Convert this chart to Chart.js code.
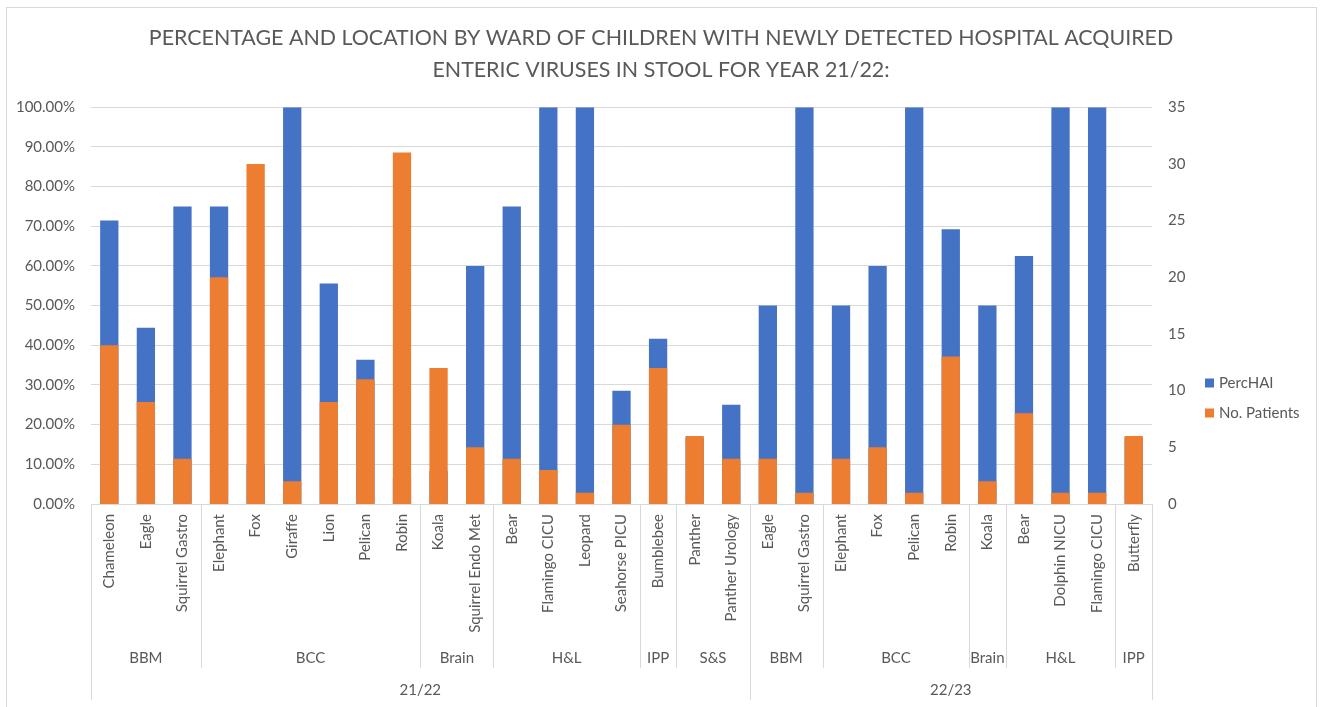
<!DOCTYPE html>
<html>
<head>
<meta charset="utf-8">
<script src="https://cdn.jsdelivr.net/npm/chart.js@4/dist/chart.umd.min.js"></script>
<style>
  html, body { margin: 0; padding: 0; background: #fff; }
  #wrap { width: 1322px; height: 707px; }
</style>
</head>
<body>
<div id="wrap"><canvas id="grafico"></canvas></div>
<script>
// wards (lowest level of the category axis)
const wards = [
  'Chameleon', 'Eagle', 'Squirrel Gastro',
  'Elephant', 'Fox', 'Giraffe', 'Lion', 'Pelican', 'Robin',
  'Koala', 'Squirrel Endo Met',
  'Bear', 'Flamingo CICU', 'Leopard', 'Seahorse PICU',
  'Bumblebee',
  'Panther', 'Panther Urology',
  'Eagle', 'Squirrel Gastro',
  'Elephant', 'Fox', 'Pelican', 'Robin',
  'Koala',
  'Bear', 'Dolphin NICU', 'Flamingo CICU',
  'Butterfly'
];
// division of each ward
const divisions = [
  'BBM', 'BBM', 'BBM',
  'BCC', 'BCC', 'BCC', 'BCC', 'BCC', 'BCC',
  'Brain', 'Brain',
  'H&L', 'H&L', 'H&L', 'H&L',
  'IPP',
  'S&S', 'S&S',
  'BBM', 'BBM',
  'BCC', 'BCC', 'BCC', 'BCC',
  'Brain',
  'H&L', 'H&L', 'H&L',
  'IPP'
];
// year of each ward
const years = [
  '21/22', '21/22', '21/22', '21/22', '21/22', '21/22', '21/22', '21/22', '21/22',
  '21/22', '21/22', '21/22', '21/22', '21/22', '21/22', '21/22', '21/22', '21/22',
  '22/23', '22/23', '22/23', '22/23', '22/23', '22/23', '22/23', '22/23', '22/23',
  '22/23', '22/23'
];

// PercHAI (%), left axis
const percHAI = [
  71.43, 44.44, 75.0,
  75.0, 10.0, 100.0, 55.56, 36.36, 6.45,
  8.33, 60.0,
  75.0, 100.0, 100.0, 28.57,
  41.67,
  16.67, 25.0,
  50.0, 100.0,
  50.0, 60.0, 100.0, 69.23,
  50.0,
  62.5, 100.0, 100.0,
  16.67
];
// No. Patients, right axis
const noPatients = [
  14, 9, 4,
  20, 30, 2, 9, 11, 31,
  12, 5,
  4, 3, 1, 7,
  12,
  6, 4,
  4, 1,
  4, 5, 1, 13,
  2,
  8, 1, 1,
  6
];

const percTicks = [0, 10, 20, 30, 40, 50, 60, 70, 80, 90, 100];
const patientTicks = [0, 5, 10, 15, 20, 25, 30, 35];

const titulo = [
  'PERCENTAGE AND LOCATION BY WARD OF CHILDREN WITH NEWLY DETECTED HOSPITAL ACQUIRED',
  'ENTERIC VIRUSES IN STOOL FOR YEAR 21/22:'
];

const cinza = '#595959';
const linha = '#d9d9d9';
const fonte = 'Lato';

// runs of identical keys -> [{label, start, end}]
function agrupar(chaves, rotulos) {
  const grupos = [];
  chaves.forEach((k, i) => {
    const ultimo = grupos[grupos.length - 1];
    if (ultimo && ultimo.key === k) ultimo.end = i;
    else grupos.push({ key: k, label: rotulos[i], start: i, end: i });
  });
  return grupos;
}

const gruposDivisao = agrupar(divisions.map((d, i) => years[i] + '|' + d), divisions);
const gruposAno = agrupar(years, years);

const fundoEBorda = {
  id: 'fundoEBorda',
  beforeDraw(chart) {
    const ctx = chart.ctx;
    ctx.save();
    ctx.fillStyle = '#fff';
    ctx.fillRect(0, 0, chart.width, chart.height);
    ctx.strokeStyle = linha;
    ctx.lineWidth = 1;
    ctx.strokeRect(6.5, 7.5, 1310, 710);
    ctx.restore();
  }
};

const eixoMultinivel = {
  id: 'eixoMultinivel',
  afterDraw(chart) {
    const { ctx, chartArea, scales: { x } } = chart;
    const meio = (x.getPixelForValue(1) - x.getPixelForValue(0)) / 2;
    const borda = i => x.getPixelForValue(i) - meio;
    const base = chartArea.bottom;

    ctx.save();
    ctx.strokeStyle = linha;
    ctx.lineWidth = 1;
    ctx.fillStyle = cinza;
    ctx.font = `15px ${fonte}`;
    ctx.textAlign = 'center';
    ctx.textBaseline = 'middle';

    gruposDivisao.forEach(g => {
      [g.start, g.end + 1].forEach(i => {
        const px = Math.round(borda(i)) + 0.5;
        ctx.beginPath();
        ctx.moveTo(px, base);
        ctx.lineTo(px, 668);
        ctx.stroke();
      });
      ctx.fillText(g.label, (borda(g.start) + borda(g.end + 1)) / 2, 658);
    });

    gruposAno.forEach(g => {
      [g.start, g.end + 1].forEach(i => {
        const px = Math.round(borda(i)) + 0.5;
        ctx.beginPath();
        ctx.moveTo(px, base);
        ctx.lineTo(px, 700);
        ctx.stroke();
      });
      ctx.fillText(g.label, (borda(g.start) + borda(g.end + 1)) / 2, 690);
    });
    ctx.restore();
  }
};

const legendaLateral = {
  id: 'legendaLateral',
  afterDraw(chart) {
    const ctx = chart.ctx;
    ctx.save();
    ctx.font = `15px ${fonte}`;
    ctx.textAlign = 'left';
    ctx.textBaseline = 'middle';
    chart.data.datasets.forEach((ds, i) => {
      const y = 383 + i * 30;
      ctx.fillStyle = ds.backgroundColor;
      ctx.fillRect(1205, y - 4.5, 9, 9);
      ctx.fillStyle = cinza;
      ctx.fillText(ds.label, 1219, y);
    });
    ctx.restore();
  }
};

new Chart(document.getElementById('grafico').getContext('2d'), {
  type: 'bar',
  data: {
    labels: wards,
    datasets: [
      {
        label: 'PercHAI',
        data: percHAI,
        backgroundColor: '#4472c4',
        yAxisID: 'y',
        grouped: false,
        order: 1,
        barPercentage: 0.5,
        categoryPercentage: 1
      },
      {
        label: 'No. Patients',
        data: noPatients,
        backgroundColor: '#ed7d31',
        yAxisID: 'y1',
        grouped: false,
        order: 0,
        barPercentage: 0.5,
        categoryPercentage: 1
      }
    ]
  },
  options: {
    responsive: true,
    maintainAspectRatio: false,
    animation: false,
    layout: { padding: 0 },
    plugins: {
      legend: { display: false },
      tooltip: { enabled: false },
      title: {
        display: true,
        text: titulo,
        color: cinza,
        font: { family: fonte, size: 21.4, weight: 'normal', lineHeight: 1.5 },
        padding: { top: 22, bottom: 21 }
      }
    },
    scales: {
      x: {
        offset: true,
        grid: { display: false, drawTicks: false },
        border: { display: true, color: linha },
        ticks: {
          autoSkip: false,
          minRotation: 90,
          maxRotation: 90,
          padding: 10,
          color: cinza,
          font: { family: fonte, size: 15 }
        },
        afterFit: scale => { scale.height = 203; }
      },
      y: {
        position: 'left',
        min: 0,
        max: 100,
        grid: { color: linha, drawTicks: false },
        border: { display: false },
        afterBuildTicks: scale => { scale.ticks = percTicks.map(v => ({ value: v })); },
        ticks: {
          padding: 16,
          color: cinza,
          font: { family: fonte, size: 15 },
          callback: v => v.toFixed(2) + '%'
        },
        afterFit: scale => { scale.width = 91; }
      },
      y1: {
        position: 'right',
        min: 0,
        max: 35,
        grid: { display: false, drawTicks: false },
        border: { display: false },
        afterBuildTicks: scale => { scale.ticks = patientTicks.map(v => ({ value: v })); },
        ticks: {
          padding: 16,
          color: cinza,
          font: { family: fonte, size: 15 }
        },
        afterFit: scale => { scale.width = 170; }
      }
    }
  },
  plugins: [fundoEBorda, eixoMultinivel, legendaLateral]
});
</script>
</body>
</html>
